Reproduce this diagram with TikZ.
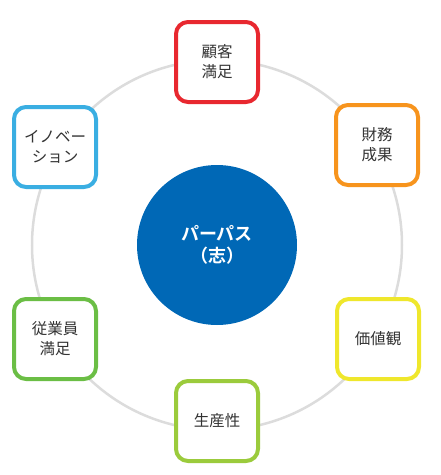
\documentclass[tikz,border=0pt]{standalone}
\usepackage{fontspec}
\newfontfamily\cjk{Noto Sans CJK JP}
\newfontfamily\cjkb{Noto Sans CJK JP Bold}
\definecolor{ringgray}{HTML}{DCDCDC}
\definecolor{cred}{HTML}{E8282F}
\definecolor{corange}{HTML}{F7941D}
\definecolor{cblue}{HTML}{3AAEE2}
\definecolor{cgreen}{HTML}{6BBE45}
\definecolor{cyellow}{HTML}{EFE72C}
\definecolor{clime}{HTML}{9BCB3C}
\definecolor{cnavy}{HTML}{0068B6}
\definecolor{txt}{HTML}{333333}
\begin{document}
\begin{tikzpicture}[x=1pt,y=-1pt,
  itembox/.style={draw=#1, line width=4pt, fill=white, rounded corners=12pt,
    minimum width=82pt, minimum height=80pt, align=center,
    font=\cjk\fontsize{15.5}{20}\selectfont, text=txt, inner sep=0pt},
  hub/.style={circle, fill=cnavy, minimum size=160pt, inner sep=0pt, align=center,
    text=white, font=\cjkb\fontsize{18}{22}\selectfont}]
\useasboundingbox (0,0) rectangle (441,475);
\coordinate (c) at (217,245);
\draw[ringgray, line width=2.5pt] (c) circle[radius=185pt];
\node[hub] (p) at (c) {パーパス\\（志）};
\node[itembox=cred] (a) at (217,62) {顧客\\満足};
\node[itembox=corange] (b) at (377,145) {財務\\成果};
\node[itembox=cyellow] (d) at (378,339) {価値観};
\node[itembox=clime] (e) at (217,421) {生産性};
\node[itembox=cgreen] (f) at (55,339) {従業員\\満足};
\node[itembox=cblue] (g) at (55,147) {イノベー\\ション};
\end{tikzpicture}
\end{document}
